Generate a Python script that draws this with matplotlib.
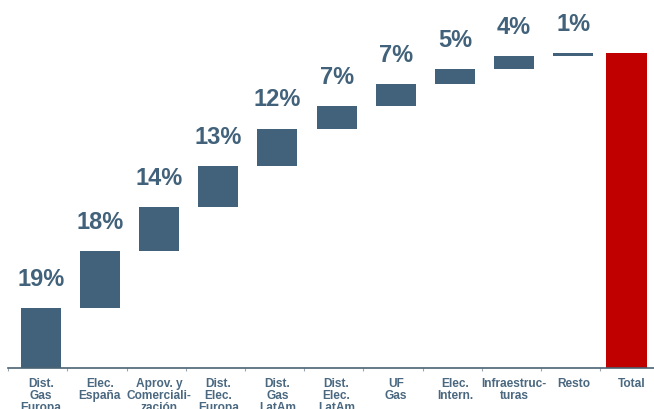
import matplotlib
matplotlib.use("Agg")
import matplotlib.pyplot as plt
import numpy as np

categories = ["Dist.\nGas\nEuropa", "Elec.\nEspaña", "Aprov. y\nComerciali-\nzación",
              "Dist.\nElec.\nEuropa", "Dist.\nGas\nLatAm", "Dist.\nElec.\nLatAm",
              "UF\nGas", "Elec.\nIntern.", "Infraestruc-\nturas", "Resto", "Total"]
values = [19, 18, 14, 13, 12, 7, 7, 5, 4, 1]
labels = ["19%", "18%", "14%", "13%", "12%", "7%", "7%", "5%", "4%", "1%"]
total = sum(values)

plt.rcParams['font.family'] = ['Liberation Sans', 'DejaVu Sans']

bar_color = "#41627a"
red = "#c00000"
text_color = "#41627a"
tick_color = "#4a6880"

fig = plt.figure(figsize=(6.54, 4.09), dpi=100)
W, H = 654, 409
axis_y = 367.7
top_px = 53.0
scale = (axis_y - top_px) / 100.0  # px per unit
ax = fig.add_axes([0, (H - axis_y) / H, 1, axis_y / H])
ax.set_ylim(0, axis_y / scale)

step = 59.18
c0 = 40.7
ax.set_xlim(-c0 / step, (W - c0) / step)

x = np.arange(len(values))
bottoms = np.concatenate([[0], np.cumsum(values)[:-1]])
ax.bar(x, values, bottom=bottoms, width=0.676, color=bar_color, linewidth=0)
total_pos = (626.3 - c0) / step
ax.bar([total_pos], [total], width=0.688, color=red, linewidth=0)

for xi, b, v, lab in zip(x, bottoms, values, labels):
    ax.annotate(lab, (xi, b + v), xytext=(0, 16.0), textcoords='offset points',
                ha='center', va='baseline', fontsize=17, fontweight='bold',
                color=text_color)

for s in ['top', 'left', 'right']:
    ax.spines[s].set_visible(False)
ax.spines['bottom'].set_color('#4a6273')
ax.spines['bottom'].set_linewidth(1.2)
first_tick = (8.3 - c0) / step
ax.spines['bottom'].set_bounds(first_tick, (W - c0) / step)
ax.set_yticks([])

label_pos = list(x) + [(632 - c0) / step]
ax.set_xticks(label_pos)
ax.set_xticklabels(categories, fontsize=8.6, fontweight='bold', color=tick_color,
                   linespacing=1.0)
ax.tick_params(axis='x', length=0, pad=7.3)
ax.set_xticks([first_tick + i for i in range(11)], minor=True)
ax.tick_params(axis='x', which='minor', length=2.5, direction='out', color='#9aa8b4', width=0.8)

fig.savefig("out.png", dpi=100)
